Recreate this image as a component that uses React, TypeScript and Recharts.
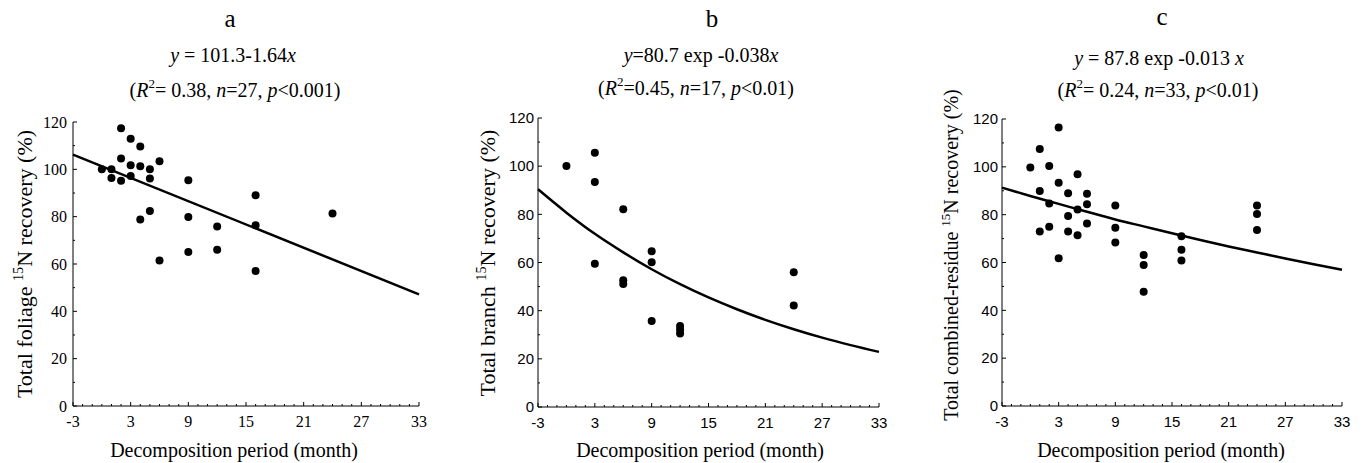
import React from 'react'
import { ComposedChart, Scatter, Line, XAxis, YAxis, Label } from 'recharts'

// ---- data ----
const xTickLabels = [-3, 3, 9, 15, 21, 27, 33]
const yTickLabels = [0, 20, 40, 60, 80, 100, 120]

// a: foliage
const foliageMonth = [0, 1, 1, 2, 2, 2, 3, 3, 3, 4, 4, 4, 5, 5, 5, 6, 6, 9, 9, 9, 12, 12, 16, 16, 16, 24]
const foliageRecovery = [100, 100, 96.3, 117.4, 104.6, 95.2, 112.9, 101.7, 97.2, 109.6, 101.3, 78.8, 100, 96.1, 82.4, 103.4, 61.5, 95.4, 79.9, 65.1, 75.8, 66, 89, 76.4, 57, 81.3]
const foliageFitMonth = [-3, 33]
const foliageFitValue = [106.2, 47.2]

// b: branch
const branchMonth = [0, 3, 3, 3, 6, 6, 6, 9, 9, 9, 12, 12, 12, 24, 24]
const branchRecovery = [100.1, 105.6, 93.4, 59.5, 82.1, 52.6, 51.1, 64.7, 60.1, 35.7, 33.6, 32.1, 30.5, 55.9, 42.1]
const branchFitMonth = [-3, 0, 3, 6, 9, 12, 15, 18, 21, 24, 27, 30, 33]
const branchFitValue = [90.4, 80.7, 71.9, 64.2, 57.2, 51.0, 45.5, 40.6, 36.2, 32.3, 28.8, 25.7, 22.9]

// c: combined residue
const residueMonth = [0, 1, 1, 1, 2, 2, 2, 3, 3, 3, 4, 4, 4, 5, 5, 5, 6, 6, 6, 9, 9, 9, 12, 12, 12, 16, 16, 16, 24, 24, 24]
const residueRecovery = [99.7, 107.5, 89.9, 73, 100.4, 84.7, 75, 116.4, 93.3, 61.8, 89, 79.4, 73, 96.9, 82.2, 71.4, 88.7, 84.4, 76.3, 83.8, 74.5, 68.4, 63.1, 59, 47.8, 71, 65.3, 60.8, 83.8, 80.3, 73.6]
const residueFitMonth = [-3, 0, 3, 6, 9, 12, 15, 18, 21, 24, 27, 30, 33]
const residueFitValue = [91.3, 87.8, 84.5, 81.2, 78.0, 75.1, 72.2, 69.4, 66.7, 64.2, 61.7, 59.3, 57.0]

const toPts = (xs: number[], ys: number[]) => xs.map((x, i) => ({ x, y: ys[i] }))

const minorX = Array.from({ length: 37 }, (_, i) => i - 3)
const minorY = Array.from({ length: 13 }, (_, i) => i * 10)

const SERIF = '"Liberation Serif", "Times New Roman", serif'
const SANS = '"Liberation Sans", Arial, sans-serif'
const H = 463

function XTick(props: any) {
  const { x, y, payload, font, size } = props
  const v = payload.value
  const major = xTickLabels.includes(v)
  return (
    <g>
      <line x1={x} x2={x} y1={y} y2={y - (major ? 4 : 2)} stroke="#000" strokeWidth={1} />
      {major && (
        <text x={x} y={y + 21} textAnchor="middle" fontFamily={font} fontSize={size} fill="#000">{v}</text>
      )}
    </g>
  )
}

function YTick(props: any) {
  const { x, y, payload, font, gap, size } = props
  const v = payload.value
  const major = yTickLabels.includes(v)
  return (
    <g>
      <line x1={x} x2={x + (major ? 4 : 2)} y1={y} y2={y} stroke="#000" strokeWidth={1} />
      {major && (
        <text x={x - gap} y={y} dy="0.35em" textAnchor="end" fontFamily={font} fontSize={size} fill="#000">{v}</text>
      )}
    </g>
  )
}

const Dot = (p: any) => <circle cx={p.cx} cy={p.cy} r={4} fill="#000" />

type PanelProps = {
  left: number; width: number
  plotLeft: number; plotRight: number; plotTop: number; plotBottom: number
  points: { x: number; y: number }[]
  fit: { x: number; y: number }[]
  fitType: 'linear' | 'monotone'
  font: string; tickSize: number; gap: number
  yTitle: string; yTitleSize: number; yTitleX: number; yTitleY: number
  xTitleX: number
}

function Panel(p: PanelProps) {
  const yW = p.plotLeft - p.left
  const xH = H - p.plotBottom
  return (
    <div style={{ position: 'absolute', left: p.left, top: 0 }}>
      <ComposedChart width={p.width} height={H}
        margin={{ top: p.plotTop, right: p.left + p.width - p.plotRight, bottom: 0, left: 0 }}>
        <XAxis dataKey="x" type="number" domain={[-3, 33]} ticks={minorX} interval={0}
          height={xH} tickSize={0} tickMargin={0} axisLine={{ stroke: '#000', strokeWidth: 1 }} tickLine={false}
          tick={(t: any) => <XTick {...t} font={p.font} size={p.tickSize} />}>
          <Label content={() => (
            <text x={p.xTitleX - p.left} y={457} textAnchor="middle" fontFamily={SERIF} fontSize={20} fill="#000">
              Decomposition period (month)
            </text>
          )} />
        </XAxis>
        <YAxis dataKey="y" type="number" domain={[0, 120]} ticks={minorY} interval={0}
          width={yW} tickSize={0} tickMargin={0} axisLine={{ stroke: '#000', strokeWidth: 1 }} tickLine={false}
          tick={(t: any) => <YTick {...t} font={p.font} gap={p.gap} size={p.tickSize} />}>
          <Label content={() => (
            <text x={p.yTitleX - p.left} y={p.yTitleY} textAnchor="middle" fontFamily={SERIF} fontSize={p.yTitleSize} fill="#000"
              transform={`rotate(-90 ${p.yTitleX - p.left} ${p.yTitleY})`}>
              {p.yTitle}
              <tspan fontSize={p.yTitleSize * 0.65} dy={-p.yTitleSize * 0.4}>15</tspan>
              <tspan dy={p.yTitleSize * 0.4}>N recovery (%)</tspan>
            </text>
          )} />
        </YAxis>
        <Line data={p.fit} dataKey="y" type={p.fitType} stroke="#000" strokeWidth={2.5}
          dot={false} activeDot={false} isAnimationActive={false} />
        <Scatter data={p.points} dataKey="y" shape={Dot} isAnimationActive={false} />
      </ComposedChart>
    </div>
  )
}

function Eq2({ x, y, r2, n, p }: { x: number; y: number; r2: string; n: string; p: string }) {
  return (
    <text x={x} y={y} textAnchor="middle" fontFamily={SERIF} fontSize={20} fill="#000">
      (<tspan fontStyle="italic">R</tspan>
      <tspan fontSize={13} dy={-9}>2</tspan>
      <tspan dy={9}>{r2}, </tspan>
      <tspan fontStyle="italic">n</tspan>={n}, <tspan fontStyle="italic">p</tspan>{p})
    </text>
  )
}

export default function App() {
  return (
    <div style={{ position: 'absolute', left: 0, top: 0, width: 1364, height: H, background: '#fff' }}>
      <Panel left={0} width={460} plotLeft={73} plotRight={419} plotTop={122} plotBottom={406}
        points={toPts(foliageMonth, foliageRecovery)} fit={toPts(foliageFitMonth, foliageFitValue)} fitType="linear"
        font={SERIF} tickSize={16} gap={6} yTitle="Total foliage " yTitleSize={22} yTitleX={32} yTitleY={264} xTitleX={234} />
      <Panel left={460} width={450} plotLeft={538} plotRight={879} plotTop={118} plotBottom={407}
        points={toPts(branchMonth, branchRecovery)} fit={toPts(branchFitMonth, branchFitValue)} fitType="monotone"
        font={SANS} tickSize={15} gap={4} yTitle="Total branch  " yTitleSize={22} yTitleX={495} yTitleY={263} xTitleX={700} />
      <Panel left={910} width={454} plotLeft={1002} plotRight={1342} plotTop={119} plotBottom={406}
        points={toPts(residueMonth, residueRecovery)} fit={toPts(residueFitMonth, residueFitValue)} fitType="monotone"
        font={SANS} tickSize={15} gap={4} yTitle="Total combined-residue " yTitleSize={20} yTitleX={958} yTitleY={255} xTitleX={1161} />
      <svg width={1364} height={H} style={{ position: 'absolute', left: 0, top: 0, pointerEvents: 'none' }}>
        <g fontFamily={SERIF} fill="#000">
          <text x={230} y={27} textAnchor="middle" fontSize={25}>a</text>
          <text x={712} y={27} textAnchor="middle" fontSize={25}>b</text>
          <text x={1162} y={25} textAnchor="middle" fontSize={25}>c</text>
          <text x={233} y={62} textAnchor="middle" fontSize={20}>
            <tspan fontStyle="italic">y</tspan> = 101.3-1.64<tspan fontStyle="italic">x</tspan>
          </text>
          <text x={701} y={62} textAnchor="middle" fontSize={20}>
            <tspan fontStyle="italic">y</tspan>=80.7 exp -0.038<tspan fontStyle="italic">x</tspan>
          </text>
          <text x={1159} y={65} textAnchor="middle" fontSize={20}>
            <tspan fontStyle="italic">y</tspan> = 87.8 exp -0.013 <tspan fontStyle="italic">x</tspan>
          </text>
        </g>
        <Eq2 x={235} y={97} r2="= 0.38" n="27" p="<0.001" />
        <Eq2 x={696} y={95} r2="=0.45" n="17" p="<0.01" />
        <Eq2 x={1158} y={97} r2="= 0.24" n="33" p="<0.01" />
      </svg>
    </div>
  )
}
